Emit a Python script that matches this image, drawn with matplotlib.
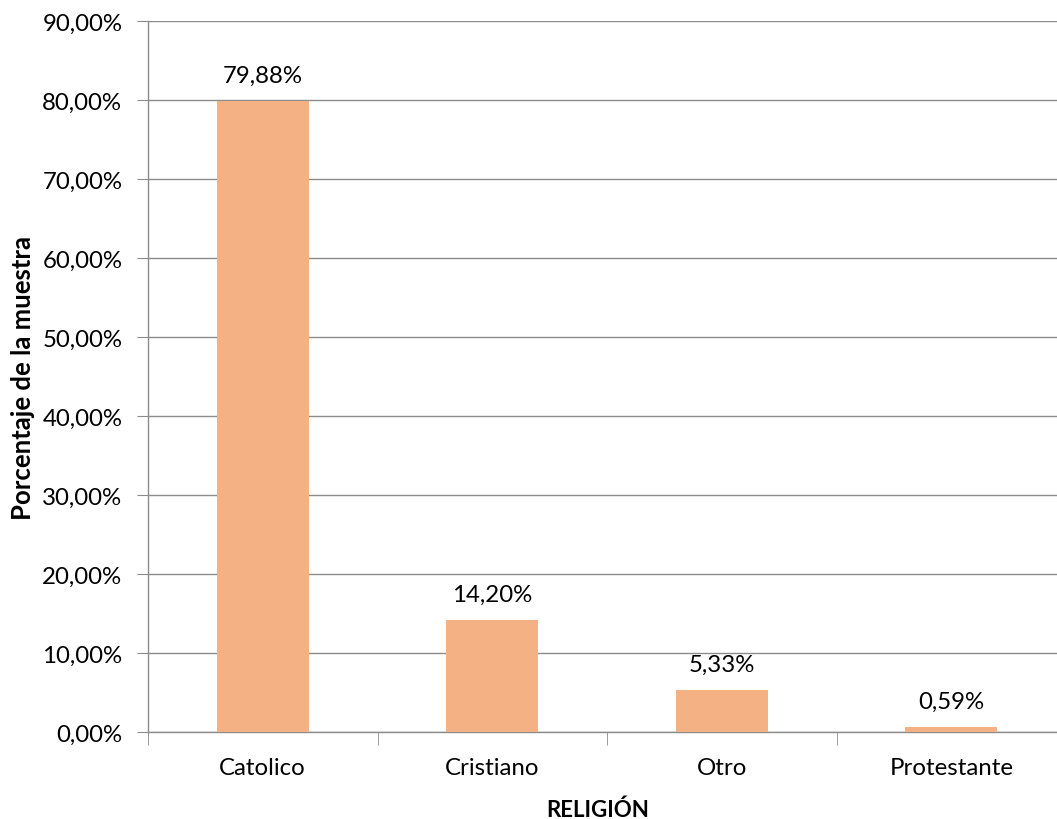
import matplotlib.pyplot as plt
from matplotlib.ticker import FuncFormatter

# Datos
categorias = ['Catolico', 'Cristiano', 'Otro', 'Protestante']
porcentajes = [79.88, 14.20, 5.33, 0.59]
etiquetas = ['79,88%', '14,20%', '5,33%', '0,59%']

COLOR_BARRA = '#F4B183'
COLOR_EJE = '#8c8c8c'

plt.rcParams['font.family'] = ['Lato', 'DejaVu Sans']

fig = plt.figure(figsize=(10.57, 8.2), dpi=100)
# el area de grafico sobresale un poco por la derecha
ax = fig.add_axes([148 / 1057, 1 - 733 / 820, 918 / 1057, 711 / 820])

x = range(len(categorias))
ax.bar(x, porcentajes, width=0.4, color=COLOR_BARRA, zorder=3)

for i, (v, txt) in enumerate(zip(porcentajes, etiquetas)):
    ax.text(i, v + 1.9, txt, ha='center', va='bottom', fontsize=17.3, color='#000000')

ax.set_xlim(-0.5, 3.5)
ax.set_ylim(0, 90)
ax.set_yticks(range(0, 91, 10))
ax.yaxis.set_major_formatter(FuncFormatter(lambda v, p: f'{v:.2f}%'.replace('.', ',')))
ax.set_xticks(list(x))
ax.set_xticklabels(categorias)
ax.set_xticks([-0.5, 0.5, 1.5, 2.5, 3.5], minor=True)

ax.grid(axis='y', color=COLOR_EJE, linewidth=1.0, zorder=0)
for s in ['top', 'right']:
    ax.spines[s].set_visible(False)
for s in ['left', 'bottom']:
    ax.spines[s].set_color(COLOR_EJE)
    ax.spines[s].set_linewidth(1.0)

ax.tick_params(axis='y', length=8, color=COLOR_EJE, labelsize=17.3, pad=10.5)
ax.tick_params(axis='x', which='major', length=0, labelsize=17.3, pad=18)
ax.tick_params(axis='x', which='minor', length=9, color=COLOR_EJE)

ax.set_ylabel('Porcentaje de la muestra', fontsize=18.5, fontweight='bold')
ax.yaxis.set_label_coords(-113 / 918, 0.5)
ax.set_xlabel('RELIGIÓN', fontsize=16, fontweight='bold')
ax.xaxis.set_label_coords(0.5 - 9 / 918, -67 / 711)

fig.savefig('out.png', dpi=100)
